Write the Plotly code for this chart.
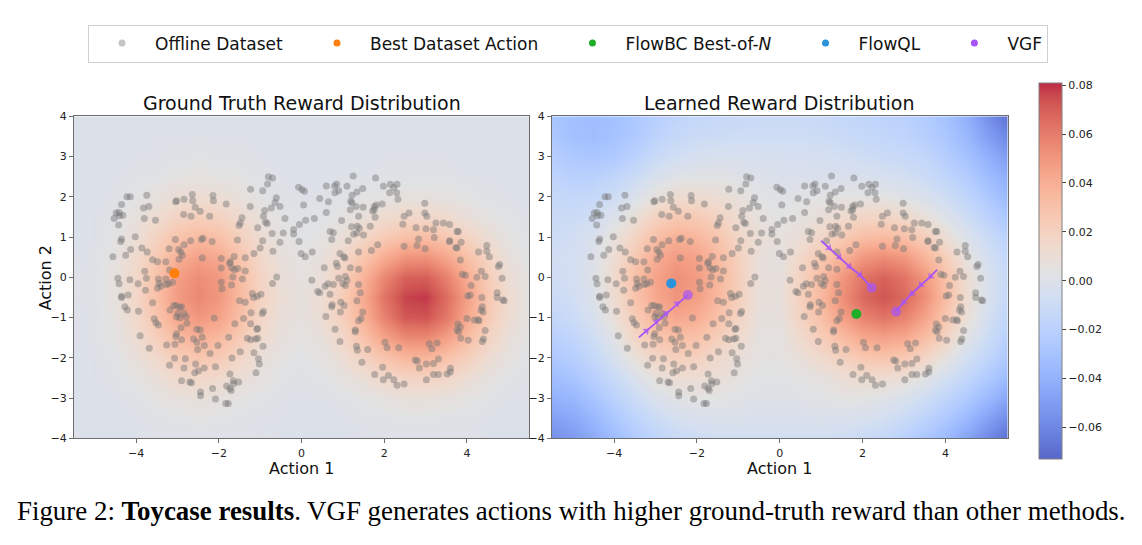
import plotly.graph_objects as go

# ---------------- data ----------------
GRID_X = [-5.5, -5.0, -4.5, -4.0, -3.5, -3.0, -2.5, -2.0, -1.5, -1.0, -0.5, 0.0,
          0.5, 1.0, 1.5, 2.0, 2.5, 3.0, 3.5, 4.0, 4.5, 5.0, 5.5]
GRID_Y = [4.0, 3.5, 3.0, 2.5, 2.0, 1.5, 1.0, 0.5, 0.0, -0.5, -1.0, -1.5, -2.0,
          -2.5, -3.0, -3.5, -4.0]

# reward values (x 1e-3), rows from y=4 (top) to y=-4 (bottom)
GT_REWARD_MILLI = [
    [0, 0, 0, 0, 0, 0, 0, 0, 0, 0, 0, 0, 0, 0, 0, 0, 0, 0, 0, 0, 0, 0, 0],
    [0, 0, 0, 0, 1, 1, 1, 1, 1, 0, 0, 0, 0, 0, 0, 0, 0, 0, 0, 0, 0, 0, 0],
    [0, 0, 0, 1, 1, 2, 3, 2, 2, 1, 0, 0, 0, 0, 0, 1, 1, 1, 1, 0, 0, 0, 0],
    [0, 0, 1, 2, 3, 5, 6, 5, 4, 2, 1, 0, 0, 1, 1, 2, 2, 2, 2, 1, 1, 0, 0],
    [0, 0, 2, 4, 7, 11, 12, 11, 8, 4, 2, 1, 1, 2, 4, 5, 7, 7, 6, 4, 2, 1, 0],
    [0, 1, 3, 7, 13, 19, 22, 20, 14, 8, 4, 2, 2, 5, 9, 13, 16, 16, 14, 9, 5, 3, 1],
    [0, 1, 4, 10, 20, 29, 34, 31, 22, 12, 6, 3, 5, 10, 17, 25, 31, 32, 27, 19, 11, 5, 2],
    [0, 2, 6, 14, 26, 39, 46, 42, 29, 16, 8, 5, 8, 16, 28, 41, 51, 52, 44, 31, 18, 8, 3],
    [1, 2, 7, 16, 31, 47, 54, 49, 34, 19, 9, 6, 10, 21, 38, 56, 69, 70, 59, 41, 24, 11, 5],
    [1, 2, 7, 17, 32, 48, 56, 50, 35, 20, 10, 7, 12, 24, 42, 63, 77, 79, 66, 46, 27, 13, 5],
    [0, 2, 6, 15, 29, 43, 50, 45, 32, 18, 9, 6, 11, 22, 39, 58, 72, 73, 62, 43, 25, 12, 5],
    [0, 2, 5, 12, 22, 34, 39, 35, 25, 14, 7, 5, 8, 17, 30, 45, 55, 56, 47, 33, 19, 9, 4],
    [0, 1, 3, 8, 15, 23, 27, 24, 17, 9, 5, 3, 5, 11, 19, 28, 35, 36, 30, 21, 12, 6, 2],
    [0, 1, 2, 5, 9, 14, 16, 14, 10, 6, 3, 2, 3, 6, 10, 15, 18, 19, 16, 11, 6, 3, 1],
    [0, 0, 1, 2, 5, 7, 8, 7, 5, 3, 1, 1, 1, 2, 4, 6, 8, 8, 7, 5, 3, 1, 1],
    [0, 0, 0, 1, 2, 3, 4, 3, 2, 1, 1, 0, 0, 1, 2, 2, 3, 3, 2, 2, 1, 0, 0],
    [0, 0, 0, 0, 1, 1, 1, 1, 1, 1, 0, 0, 0, 0, 0, 1, 1, 1, 1, 1, 0, 0, 0],
]

LEARNED_REWARD_MILLI = [
    [-28, -32, -33, -31, -27, -21, -17, -14, -13, -12, -11, -11, -11, -12, -14, -16, -18, -20, -24, -30, -40, -55, -68],
    [-26, -31, -33, -30, -25, -18, -13, -10, -9, -8, -8, -8, -8, -9, -11, -13, -15, -17, -21, -27, -36, -48, -60],
    [-22, -26, -27, -25, -19, -11, -7, -4, -3, -3, -3, -4, -4, -5, -6, -8, -10, -12, -15, -22, -30, -40, -50],
    [-17, -20, -20, -16, -10, -3, 2, 3, 3, 2, 0, -1, -1, -2, -2, -2, -4, -6, -10, -16, -23, -33, -42],
    [-13, -14, -13, -8, -1, 8, 13, 13, 11, 8, 3, 2, 3, 4, 5, 5, 5, 2, -2, -8, -16, -25, -35],
    [-10, -10, -7, 0, 10, 20, 26, 25, 19, 12, 7, 4, 6, 9, 14, 18, 18, 16, 9, 1, -8, -18, -27],
    [-9, -7, -2, 7, 19, 32, 39, 36, 28, 17, 10, 7, 10, 17, 25, 32, 34, 31, 23, 11, 0, -10, -20],
    [-7, -6, 0, 12, 26, 41, 48, 45, 34, 21, 8, 6, 16, 26, 38, 50, 54, 50, 37, 23, 7, -5, -15],
    [-8, -6, 1, 14, 31, 45, 53, 48, 36, 23, 8, 7, 20, 33, 50, 63, 69, 63, 50, 31, 12, -2, -13],
    [-10, -7, 0, 12, 29, 43, 51, 47, 35, 22, 8, 8, 21, 35, 53, 67, 73, 67, 53, 33, 13, -2, -14],
    [-15, -10, -3, 9, 24, 36, 43, 40, 30, 19, 7, 7, 19, 31, 46, 58, 63, 58, 45, 28, 10, -5, -17],
    [-20, -16, -8, 3, 17, 28, 32, 30, 22, 14, 6, 5, 14, 23, 33, 43, 46, 43, 32, 19, 3, -9, -21],
    [-26, -22, -14, -4, 8, 17, 21, 20, 14, 9, 5, 5, 8, 14, 20, 26, 28, 25, 17, 6, -6, -16, -27],
    [-33, -29, -21, -12, -2, 7, 11, 11, 9, 6, 3, 3, 4, 6, 10, 12, 12, 9, 3, -6, -15, -25, -35],
    [-40, -37, -29, -19, -10, -2, 3, 4, 4, 2, 1, 1, 2, 3, 4, 4, 2, -2, -8, -16, -25, -35, -46],
    [-48, -44, -37, -27, -18, -10, -5, -2, -1, -1, -2, -2, -2, -1, -2, -3, -6, -11, -18, -26, -35, -47, -58],
    [-56, -51, -43, -34, -24, -17, -12, -9, -7, -7, -7, -7, -7, -7, -8, -11, -14, -20, -27, -35, -46, -58, -70],
]

REWARD_MIN = -0.0728
REWARD_MAX = 0.0811
COLORBAR_TICKS = [-0.06, -0.04, -0.02, 0.0, 0.02, 0.04, 0.06, 0.08]
X_TICKS = [-4, -2, 0, 2, 4]
Y_TICKS = [-4, -3, -2, -1, 0, 1, 2, 3, 4]

DATASET_X = [
    -0.80, -0.70, -0.82, -1.23, -0.94, -0.61, -0.64, -2.14, -2.13, -1.82, -2.64, -2.63, -3.02, -3.04, -2.84,
    -3.74, -4.22, -4.14, -4.35, -3.82, -3.69, -4.48, -4.41, -4.53, -4.40, -4.32, -4.42, -3.80, -3.53, -2.85,
    -2.67, -2.57, -2.45, -2.22, -1.24, -0.89, -0.73, -0.52, -0.40, -1.44, -1.48, -1.51, -0.87, -0.83, -0.92,
    -1.06, -0.71, -0.19, -0.05, 0.10, 0.31, -0.19, -0.44, -0.06, -0.52, -0.94, -1.00, -0.69, -1.15, -1.36,
    -1.55, -0.01, 0.09, 0.26, -0.07, 0.01, 0.07, 0.05,
    -4.02, -4.35, -4.37, -4.13, -4.25, -4.56, -3.86, -3.73, -3.20, -3.05, -2.97, -2.92, -2.88, -2.84, -2.68,
    -2.42, -2.38, -2.16, -2.40, -1.94, -1.94, -1.72, -1.63, -1.74, -1.69, -1.62, -1.54, -1.36, -1.43, -1.66,
    -1.94, -1.92, -1.69, -0.60, -0.70, -3.60, -3.48, -3.28, -3.79, -3.75, -4.44, -4.41, -4.15, -3.95, -3.46,
    -3.44, -3.48, -3.40, -3.28, -3.21, -3.27, -3.12, -3.77, -4.35, -4.35, -4.19, -4.27, -4.21, -3.94, -3.60,
    -3.56, -3.52, -3.46, -3.90, -3.68, -3.18, -3.09, -3.03, -2.94, -2.90, -2.99, -2.94, -2.84, -2.79, -3.02,
    -2.77, -2.91, -3.02, -3.04, -2.90, -3.06, -3.26, -3.19, -3.07, -2.84, -2.81, -2.70, -2.66, -2.90, -2.61,
    -2.53, -2.53, -2.45, -2.40, -2.51, -2.35, -2.56, -2.58, -2.49, -2.35, -2.21, -2.02, -2.08, -2.11, -2.44,
    -2.44, -2.15, -2.08, -1.83, -1.77, -1.81, -1.73, -1.70, -1.64, -1.65, -1.52, -1.73, -1.68, -1.76, -1.61,
    -1.48, -1.50, -1.36, -1.40, -1.19, -1.16, -0.98, -1.07, -1.22, -0.92, -0.95, -1.23, -1.06, -1.08, -1.31,
    -1.23, -1.11, -1.06, -0.93, -1.15, -1.04, -1.02, -1.10, -3.19, -2.96,
    1.25, 1.79, 0.60, 0.80, 0.85, 0.81, 0.90, 1.10, 1.22, 1.34, 1.48, 1.98, 2.15, 2.23, 2.31,
    2.13, 2.30, 2.33, 0.44, 0.65, 1.19, 1.22, 1.49, 1.76, 1.81, 1.72, 1.76, 1.95, 0.60, 1.18,
    1.32, 1.78, 2.48, 2.60, 2.45, 2.98, 2.98, 3.03, 0.97, 1.38, 1.66, 1.35, 1.40, 1.21, 1.26,
    1.34, 1.50, 0.69, 0.77, 0.73, 1.13, 1.69, 1.84, 1.38, 0.93, 1.02, 1.05, 2.77, 2.83, 3.01,
    3.19, 3.25, 3.43, 3.58, 3.76, 3.79, 3.21, 3.58, 3.58, 3.86, 3.73, 3.76, 2.79, 2.99, 2.48,
    3.84, 4.28, 4.48, 4.48, 4.54, 4.76, 4.79, 4.85, 4.35, 4.44, 4.24, 3.89, 3.96, 4.10, 4.02,
    4.08, 4.36, 4.37, 4.39, 4.34, 4.73, 4.73, 4.87, 4.90, 4.18, 4.27, 4.29, 4.00, 3.78, 3.84,
    3.76, 3.80, 4.44, 3.85, 4.03, 4.37, 4.40, 3.09, 3.15, 3.28, 2.75, 2.80, 2.85, 3.02, 3.19,
    3.31, 3.02, 3.19, 3.31, 3.52, 3.60, 3.60, 1.98, 2.10, 1.77, 1.96, 2.23, 2.31, 2.48, 1.46,
    1.33, 1.35, 1.60, 2.02, 2.07, 2.35, 1.30, 1.30, 1.38, 1.44, 1.48, 1.34, 1.42, 1.38, 1.38,
    0.81, 0.93, 0.59, 0.73, 0.74, 0.95, 1.03, 0.94, 0.69, 0.57, 0.64, 0.77, 0.39, 0.44, 0.25,
    0.55, 0.84, 0.87, 0.90, 1.06, 1.18, 1.00, 1.06, 1.10,
]
DATASET_Y = [
    2.50, 2.47, 2.32, 2.19, 2.15, 1.98, 1.86, 2.03, 1.90, 1.82, 2.06, 1.90, 1.90, 1.88, 1.94,
    2.04, 2.00, 2.00, 1.81, 1.72, 1.76, 1.60, 1.61, 1.46, 1.53, 1.54, 1.30, 1.46, 1.42, 1.56,
    1.52, 1.74, 1.64, 1.52, 1.76, 1.66, 1.72, 1.76, 1.46, 1.48, 1.35, 1.29, 1.37, 1.34, 1.52,
    1.23, 1.09, 1.19, 1.31, 1.42, 1.46, 1.08, 1.10, 0.89, 0.87, 0.91, 0.73, 0.65, 0.59, 0.49,
    0.93, 0.59, 0.51, 0.63, 2.24, 2.18, 2.14, 1.80,
    1.01, 0.95, 0.89, 0.69, 0.55, 0.51, 0.73, 0.63, 0.71, 0.94, 0.69, 0.63, 0.55, 0.81, 0.91,
    0.94, 0.97, 0.89, 0.48, 0.47, 0.23, 0.39, 0.52, 0.35, 0.24, 0.19, 0.22, 0.16, -0.04, 0.01,
    -0.12, -0.28, -0.19, 0.01, -0.15, 0.44, 0.39, 0.39, 0.15, -0.02, -0.02, -0.16, -0.06, -0.16, -0.04,
    -0.15, -0.27, -0.22, -0.04, -0.16, -0.18, -0.12, -0.32, -0.47, -0.50, -0.44, -0.73, -0.81, -0.84, -0.63,
    -1.03, -1.13, -1.18, -1.45, -1.76, -0.81, -0.70, -0.70, -0.74, -0.73, -0.90, -1.00, -0.90, -0.98, -0.98,
    -1.14, -1.25, -1.40, -1.47, -1.55, -1.66, -1.68, -2.18, -2.01, -2.25, -2.02, -2.60, -2.62, -2.57, -1.53,
    -1.61, -1.29, -1.31, -1.49, -1.79, -1.69, -2.15, -2.37, -2.32, -2.25, -1.89, -1.69, -2.22, -1.01, -2.85,
    -2.94, -2.76, -3.02, -3.13, -3.13, -2.70, -2.76, -2.81, -2.64, -2.57, -2.60, -2.40, -2.00, -1.49, -1.15,
    -1.85, -0.58, -0.62, -1.02, -0.40, -0.50, -0.42, -0.47, -0.88, -0.85, -0.90, -1.15, -1.27, -1.29, -1.51,
    -1.55, -1.53, -1.51, -1.71, -1.87, -2.02, -2.15, -2.37, 0.18, 0.45,
    2.52, 2.47, 2.27, 2.27, 2.32, 2.10, 2.15, 2.26, 2.04, 2.12, 2.21, 2.26, 2.31, 2.23, 2.31,
    2.10, 2.10, 1.94, 1.96, 1.88, 1.89, 1.85, 1.74, 1.76, 1.80, 1.65, 1.68, 1.82, 1.61, 1.68,
    1.76, 1.49, 1.52, 1.60, 1.32, 1.84, 1.60, 1.52, 1.41, 1.52, 1.27, 1.27, 1.22, 1.26, 1.07,
    1.10, 1.05, 1.14, 1.11, 0.94, 0.91, 0.67, 0.81, 0.63, 0.59, 0.51, 0.48, 1.23, 0.95, 1.21,
    1.18, 1.35, 1.35, 1.31, 1.14, 1.14, 0.99, 0.91, 0.89, 0.87, 0.74, 0.73, 0.79, 0.71, 0.77,
    0.43, 0.63, 0.79, 0.65, 0.51, 0.27, 0.32, -0.02, 0.15, 0.02, 0.00, 0.08, 0.05, -0.20, -0.46,
    -0.44, -0.50, -0.73, -0.86, -0.81, -0.38, -0.50, -0.56, -0.58, -1.06, -1.05, -1.08, -1.02, -1.16, -1.23,
    -1.31, -1.35, -1.32, -1.51, -1.56, -1.59, -1.53, -1.65, -1.77, -1.63, -2.05, -2.08, -2.25, -2.15, -2.14,
    -2.03, -2.54, -2.41, -2.41, -2.40, -2.26, -2.35, -2.54, -2.44, -2.41, -2.23, -2.54, -2.68, -2.65, -2.11,
    -1.71, -1.81, -1.79, -1.61, -1.75, -1.75, -1.31, -1.35, -1.08, -1.02, -0.86, -0.58, -0.38, -0.18, 0.20,
    -1.29, -1.59, -0.97, -0.73, -0.68, -0.62, -0.70, -0.86, -0.42, -0.22, -0.16, -0.18, -0.35, -0.38, -0.07,
    0.24, 0.35, 0.27, -0.02, 0.02, 0.24, -0.15, -0.20, -0.08,
]

BEST_DATASET_ACTION_X = [-3.07]
BEST_DATASET_ACTION_Y = [0.10]
FLOWBC_X = [1.85]
FLOWBC_Y = [-0.91]
FLOWQL_X = [-2.62]
FLOWQL_Y = [-0.15]
VGF_PATHS_X = [
    [-3.40, -3.22, -2.98, -2.74, -2.48, -2.22],
    [1.00, 1.19, 1.44, 1.68, 1.94, 2.22],
    [3.80, 3.64, 3.41, 3.19, 2.99, 2.81],
]
VGF_PATHS_Y = [
    [-1.49, -1.33, -1.10, -0.89, -0.65, -0.44],
    [0.91, 0.73, 0.50, 0.27, 0.06, -0.26],
    [0.19, 0.02, -0.19, -0.40, -0.62, -0.85],
]

# ---------------- style ----------------
W, H = 1142, 545
COOLWARM = [(59, 76, 192), (68, 90, 204), (77, 104, 215), (87, 117, 225), (98, 130, 234),
            (108, 142, 241), (119, 154, 247), (130, 165, 251), (141, 176, 254), (152, 185, 255),
            (163, 194, 255), (174, 201, 253), (184, 208, 249), (194, 213, 244), (204, 217, 238),
            (213, 219, 230), (221, 221, 221), (229, 216, 209), (236, 211, 197), (241, 204, 185),
            (245, 196, 173), (247, 187, 160), (247, 177, 148), (247, 166, 135), (244, 154, 123),
            (241, 141, 111), (236, 127, 99), (229, 112, 88), (222, 96, 77), (213, 80, 66),
            (203, 62, 56), (192, 40, 47), (180, 4, 38)]
ALPHA = 0.85
n = len(COOLWARM) - 1
colorscale = []
for i, (r, g, b) in enumerate(COOLWARM):
    rr, gg, bb = (round(c * ALPHA + 255 * (1 - ALPHA)) for c in (r, g, b))
    colorscale.append([i / n, f"rgb({rr},{gg},{bb})"])

ORANGE = "#ff7f0e"
GREEN = "#1fae2a"
BLUE = "#2b93dc"
PURPLE = "#a855f7"
DOT = "rgba(118,118,118,0.45)"
FONT = "DejaVu Sans"


def px_x(p):
    return p / W


def px_y(p):
    return (H - p) / H


y_up = GRID_Y[::-1]


def field(rows):
    return [[v / 1000.0 for v in row] for row in rows[::-1]]


fig = go.Figure()

panels = [("x", "y", GT_REWARD_MILLI), ("x2", "y2", LEARNED_REWARD_MILLI)]
for xa, ya, rows in panels:
    fig.add_trace(go.Heatmap(x=GRID_X, y=y_up, z=field(rows), coloraxis="coloraxis",
                             zsmooth="best", xaxis=xa, yaxis=ya, hoverinfo="skip",
                             showlegend=False))
    fig.add_trace(go.Scatter(x=DATASET_X, y=DATASET_Y, mode="markers", xaxis=xa, yaxis=ya,
                             marker=dict(size=7, color=DOT, line=dict(width=0)),
                             showlegend=False, hoverinfo="skip"))

# ground truth panel: best dataset action
fig.add_trace(go.Scatter(x=BEST_DATASET_ACTION_X, y=BEST_DATASET_ACTION_Y, mode="markers",
                         xaxis="x", yaxis="y", showlegend=False,
                         marker=dict(size=10, color=ORANGE, line=dict(width=0))))

# learned panel: methods
for px_, py_ in zip(VGF_PATHS_X, VGF_PATHS_Y):
    k = len(px_)
    fig.add_trace(go.Scatter(
        x=px_, y=py_, mode="lines+markers", xaxis="x2", yaxis="y2", showlegend=False,
        line=dict(color=PURPLE, width=1.8),
        marker=dict(color=PURPLE, angleref="previous",
                    symbol=["circle"] + ["triangle-up"] * (k - 2) + ["circle"],
                    size=[10] + [7] * (k - 2) + [10], line=dict(width=0))))
fig.add_trace(go.Scatter(x=FLOWQL_X, y=FLOWQL_Y, mode="markers", xaxis="x2", yaxis="y2",
                         showlegend=False, marker=dict(size=10, color=BLUE, line=dict(width=0))))
fig.add_trace(go.Scatter(x=FLOWBC_X, y=FLOWBC_Y, mode="markers", xaxis="x2", yaxis="y2",
                         showlegend=False, marker=dict(size=10, color=GREEN, line=dict(width=0))))

# legend entries
PAD = "\u00a0\u00a0\u00a0"
legend_items = [("Offline Dataset" + PAD, "rgba(150,150,150,0.55)"),
                ("Best Dataset Action" + PAD, ORANGE),
                ("FlowBC Best-of-<i>N</i>" + PAD, GREEN),
                ("FlowQL" + PAD, BLUE),
                ("VGF", PURPLE)]
for name, col in legend_items:
    fig.add_trace(go.Scatter(x=[None], y=[None], mode="markers", name=name,
                             marker=dict(size=7, color=col, line=dict(width=0)),
                             xaxis="x", yaxis="y"))

axis_common = dict(showline=True, mirror=True, linecolor="#6e6e6e", linewidth=1,
                   ticks="outside", ticklen=4, tickcolor="#6e6e6e", showgrid=False,
                   zeroline=False, tickfont=dict(size=11, color="#222", family=FONT))
y0, y1 = px_y(443), px_y(113)
fig.update_layout(
    width=W, height=H, margin=dict(l=0, r=0, t=0, b=0),
    paper_bgcolor="white", plot_bgcolor="white",
    font=dict(family=FONT, color="#111"),
    xaxis=dict(axis_common, domain=[px_x(74), px_x(529)], range=[-5.5, 5.5], tickvals=X_TICKS,
               anchor="y"),
    yaxis=dict(axis_common, domain=[y0, y1], range=[-4, 4], tickvals=Y_TICKS, anchor="x"),
    xaxis2=dict(axis_common, domain=[px_x(552), px_x(1007.5)], range=[-5.5, 5.5],
                tickvals=X_TICKS, anchor="y2"),
    yaxis2=dict(axis_common, domain=[y0, y1], range=[-4, 4], tickvals=Y_TICKS, anchor="x2"),
    coloraxis=dict(
        colorscale=colorscale, cmin=REWARD_MIN, cmax=REWARD_MAX,
        colorbar=dict(thickness=23, thicknessmode="pixels", len=376, lenmode="pixels",
                      x=px_x(1039), xanchor="left", y=px_y(271), yanchor="middle",
                      xpad=0, ypad=0, outlinecolor="#808080", outlinewidth=1,
                      ticks="outside", ticklen=4, tickcolor="#444",
                      tickvals=COLORBAR_TICKS, tickformat=".2f",
                      tickfont=dict(size=11, color="#222", family=FONT))),
    legend=dict(orientation="h", x=px_x(88), y=px_y(19), xanchor="left", yanchor="top",
                bgcolor="white", bordercolor="#d0d0d0", borderwidth=1, itemwidth=56,
                font=dict(size=17, family=FONT, color="#111"), itemclick=False),
    annotations=[
        dict(text="Ground Truth Reward Distribution", x=px_x(301.5), y=px_y(99),
             xref="paper", yref="paper", showarrow=False, xanchor="center", yanchor="middle",
             font=dict(size=19, family=FONT, color="#111")),
        dict(text="Learned Reward Distribution", x=px_x(779.5), y=px_y(99),
             xref="paper", yref="paper", showarrow=False, xanchor="center", yanchor="middle",
             font=dict(size=19, family=FONT, color="#111")),
        dict(text="Action 1", x=px_x(301.5), y=px_y(474), xref="paper", yref="paper",
             showarrow=False, xanchor="center", yanchor="middle", borderpad=0,
             font=dict(size=16, family=FONT, color="#111")),
        dict(text="Action 1", x=px_x(779.5), y=px_y(474), xref="paper", yref="paper",
             showarrow=False, xanchor="center", yanchor="middle", borderpad=0,
             font=dict(size=16, family=FONT, color="#111")),
        dict(text="Action 2", x=px_x(45), y=px_y(278), xref="paper", yref="paper",
             showarrow=False, xanchor="center", yanchor="middle", textangle=-90,
             font=dict(size=16, family=FONT, color="#111")),
        dict(text="Figure 2: <b>Toycase results</b>. VGF generates actions with higher "
                  "ground-truth reward than other methods.",
             x=px_x(571.5), y=px_y(517), xref="paper", yref="paper", showarrow=False,
             xanchor="center", yanchor="middle",
             font=dict(size=26.9, family="Liberation Serif", color="#000")),
    ],
)

fig.write_html("out.html")
